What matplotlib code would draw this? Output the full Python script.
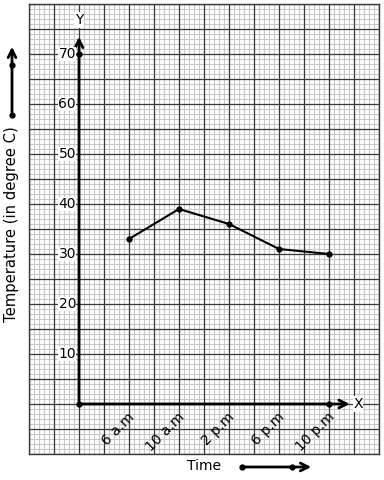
import matplotlib
matplotlib.use("Agg")
import matplotlib.pyplot as plt
import numpy as np

times = ["6 a.m", "10 a.m", "2 p.m", "6 p.m", "10 p.m"]
temps = [33, 39, 36, 31, 30]
yticks = [10, 20, 30, 40, 50, 60, 70]

W, H = 384, 480
fig = plt.figure(figsize=(W / 100, H / 100), dpi=100)
ax = fig.add_axes([29 / W, (H - 454) / H, 350 / W, 450 / H])
ax.set_xlim(-1, 6)
ax.set_ylim(-10, 80)
ax.set_xticks([]); ax.set_yticks([])

# graph paper
for xv in np.arange(-1, 6.001, 0.1):
    ax.axvline(xv, color="#c8c8c8", lw=0.8, zorder=0)
for yv in np.arange(-10, 80.001, 1):
    ax.axhline(yv, color="#c8c8c8", lw=0.8, zorder=0)
for xv in np.arange(-1, 6.001, 0.5):
    ax.axvline(xv, color="#3a3a3a", lw=0.9, zorder=1)
for yv in np.arange(-10, 80.001, 5):
    ax.axhline(yv, color="#3a3a3a", lw=0.9, zorder=1)
for s in ax.spines.values():
    s.set_color("#3a3a3a"); s.set_linewidth(1)

# axes
ax.annotate("", xy=(0, 74), xytext=(0, 0),
            arrowprops=dict(arrowstyle="->", lw=2, color="black", mutation_scale=14), zorder=5)
ax.annotate("", xy=(5.47, 0), xytext=(0, 0),
            arrowprops=dict(arrowstyle="->", lw=2, color="black", mutation_scale=14), zorder=5)
ax.plot([0, 0, 5], [0, 70, 0], "o", color="black", ms=3.5, zorder=6)
ax.text(0, 76.8, "Y", ha="center", va="center", fontsize=10,
        bbox=dict(fc="white", ec="none", pad=0.5), zorder=6)
ax.text(5.58, 0, "X", ha="center", va="center", fontsize=10,
        bbox=dict(fc="white", ec="none", pad=0.5), zorder=6)

for yv in yticks:
    ax.text(-0.06, yv, str(yv), ha="right", va="center", fontsize=10,
            bbox=dict(fc="white", ec="none", pad=0.3), zorder=6)

xs = np.arange(1, len(times) + 1)
for xv, lab in zip(xs, times):
    ax.text(xv + 0.16, -1.2, lab, rotation=45, ha="right", va="top", fontsize=10,
            zorder=6)

ax.plot(xs, temps, "-o", color="black", lw=1.5, ms=3.5, zorder=7)

# outside labels
fig.text(12 / W, 1 - 224 / H, "Temperature (in degree C)", rotation=90,
         ha="center", va="center", fontsize=10.6)
fig.text(204 / W, 1 - 466 / H, "Time", ha="center", va="center", fontsize=10)

tf = fig.transFigure
fig.add_artist(matplotlib.patches.FancyArrowPatch(
    (12 / W, 1 - 115 / H), (12 / W, 1 - 44 / H), transform=tf,
    arrowstyle="->", lw=2, color="black", mutation_scale=14))
fig.add_artist(matplotlib.lines.Line2D([12 / W, 12 / W], [1 - 115 / H, 1 - 65 / H],
                                       transform=tf, marker="o", ls="none", ms=3.5, color="black"))
fig.add_artist(matplotlib.patches.FancyArrowPatch(
    (242 / W, 1 - 467 / H), (314 / W, 1 - 467 / H), transform=tf,
    arrowstyle="->", lw=2, color="black", mutation_scale=14))
fig.add_artist(matplotlib.lines.Line2D([242 / W, 292 / W], [1 - 467 / H, 1 - 467 / H],
                                       transform=tf, marker="o", ls="none", ms=3.5, color="black"))

fig.savefig("out.png", dpi=100)
